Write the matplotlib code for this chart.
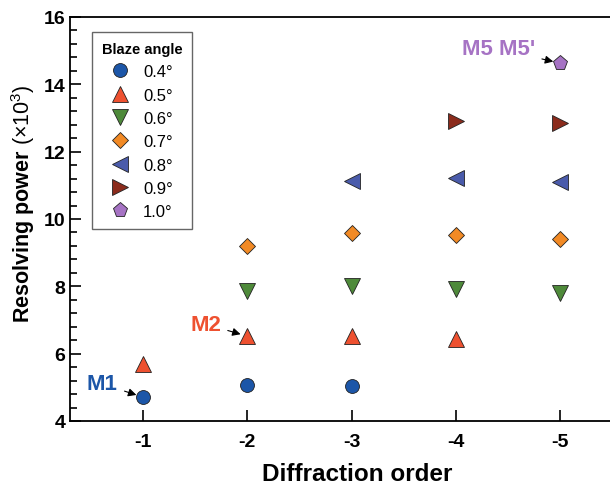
import numpy as np
import matplotlib.pyplot as plt

plt.rcParams['font.family'] = ['Liberation Sans', 'DejaVu Sans']
plt.rcParams['axes.unicode_minus'] = False
plt.rcParams['mathtext.fontset'] = 'custom'
plt.rcParams['mathtext.rm'] = 'Liberation Sans'
plt.rcParams['mathtext.bf'] = 'Liberation Sans:bold'

# blaze angle series: diffraction orders and resolving power (x10^3)
labels = ["0.4°", "0.5°", "0.6°", "0.7°", "0.8°", "0.9°", "1.0°"]
orders = [
    [-1, -2, -3],
    [-1, -2, -3, -4],
    [-2, -3, -4, -5],
    [-2, -3, -4, -5],
    [-3, -4, -5],
    [-4, -5],
    [-5],
]
power = [
    [4.71, 5.07, 5.04],
    [5.70, 6.52, 6.52, 6.44],
    [7.86, 8.01, 7.92, 7.80],
    [9.20, 9.59, 9.53, 9.41],
    [11.14, 11.23, 11.09],
    [12.92, 12.84],
    [14.63],
]
markers = ['o', '^', 'v', 'D', '<', '>', 'p']
sizes = [10, 11, 11, 8.5, 11, 11, 11]
colors = ['#1c56a8', '#ee5130', '#4e8a3a', '#f28a25', '#4a5bab', '#8b2b1c', '#a673c4']

fig = plt.figure(figsize=(6.1, 4.85), dpi=100)
ax = fig.add_axes([0.1148, 0.1299, 0.94, 0.833])

for x, y, m, s, c, lab in zip(orders, power, markers, sizes, colors, labels):
    ax.plot(x, y, linestyle='none', marker=m, markersize=s, color=c,
            markeredgecolor='#222222', markeredgewidth=0.6, label=lab)

ax.set_xlim(-0.3, -5.8)
ax.set_ylim(4, 16)
ax.set_xticks([-1, -2, -3, -4, -5])
ax.set_yticks([4, 6, 8, 10, 12, 14, 16])
ax.set_yticks(np.arange(4, 16, 0.4), minor=True)
ax.tick_params(direction='in', which='both', labelsize=14, width=1.2)
ax.tick_params(which='major', length=8)
ax.tick_params(which='minor', length=5)
ax.tick_params(axis='x', pad=9)
for lbl in ax.get_xticklabels() + ax.get_yticklabels():
    lbl.set_fontweight('bold')
for sp in ax.spines.values():
    sp.set_linewidth(1.3)

ax.set_xlabel("Diffraction order", fontsize=17.5, fontweight='bold', labelpad=8)
ax.set_ylabel(r"Resolving power $\mathrm{(×10^{3})}$", fontsize=15.5, fontweight='bold')
ax.yaxis.set_label_coords(-0.058, 0.54)

leg = ax.legend(title="Blaze angle", loc='upper left', bbox_to_anchor=(0.038, 0.963),
                borderaxespad=0, fontsize=12, labelspacing=0.5, handletextpad=0.9,
                handlelength=1.0, borderpad=0.6, fancybox=False, edgecolor='#666666',
                framealpha=1)
leg.get_title().set_fontweight('bold')
leg.get_title().set_fontsize(10.5)
leg.get_frame().set_linewidth(1.0)

arrow = dict(arrowstyle='-|>', color='black', lw=0.8, mutation_scale=12, shrinkA=3, shrinkB=5)
ax.annotate("M1", xy=(orders[0][0], power[0][0]), xytext=(-0.61, 5.10),
            fontsize=16, fontweight='bold', color=colors[0], ha='center', va='center',
            arrowprops=arrow)
ax.annotate("M2", xy=(orders[1][1], power[1][1]), xytext=(-1.60, 6.88),
            fontsize=16, fontweight='bold', color=colors[1], ha='center', va='center',
            arrowprops=arrow)
ax.annotate("M5 M5'", xy=(orders[6][0], power[6][0]), xytext=(-4.41, 15.05),
            fontsize=16, fontweight='bold', color=colors[6], ha='center', va='center',
            arrowprops=arrow)

fig.savefig('out.png', dpi=100)
